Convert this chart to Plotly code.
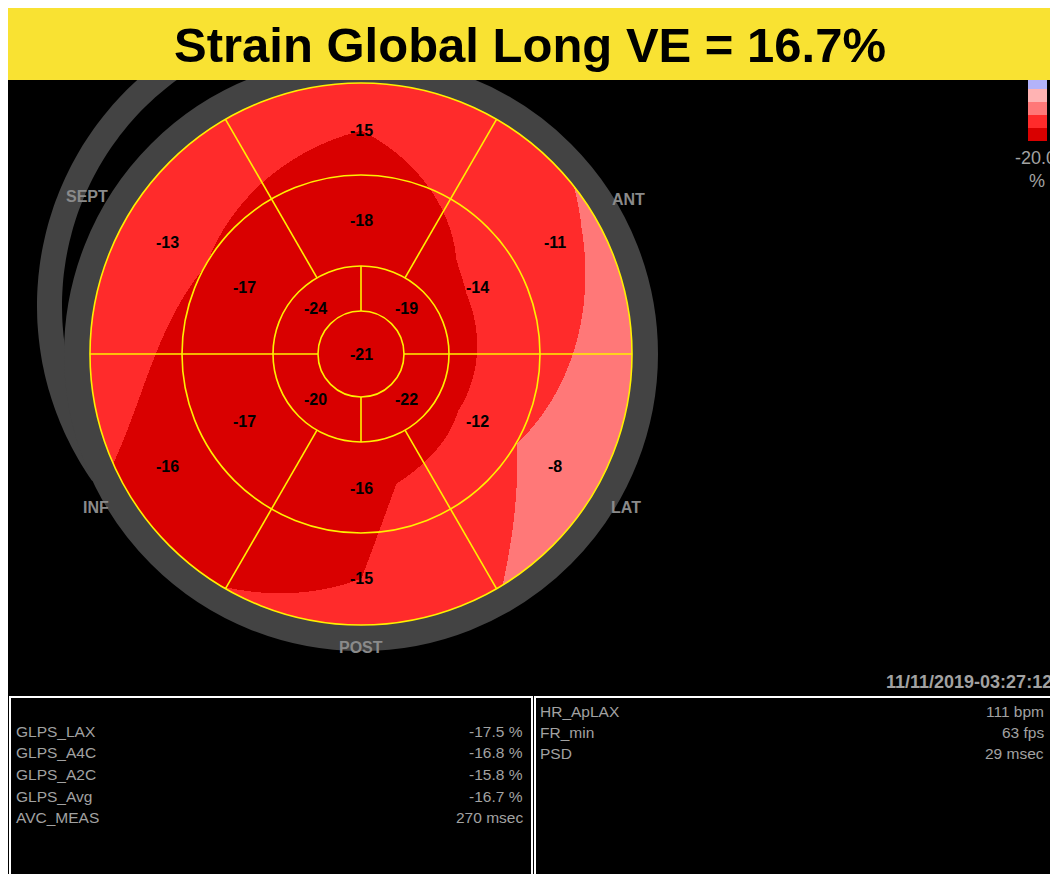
import numpy as np
import plotly.graph_objects as go

# ---------------- data ----------------
TITLE = "Strain Global Long VE = 16.7%"

APEX_VALUE = -21
APICAL_ANGLES = [45, 135, 225, 315]          # degrees, counter-clockwise from 3 o'clock
APICAL_VALUES = [-19, -24, -20, -22]
WALL_ANGLES = [30, 90, 150, 210, 270, 330]
MID_VALUES = [-14, -18, -17, -17, -16, -12]
BASAL_VALUES = [-11, -15, -13, -16, -15, -8]

WALL_LABELS = ["ANT", "SEPT", "INF", "POST", "LAT"]
WALL_LABEL_ANGLES = [30, 150, 210, 270, 330]

BIN_EDGES = [-20, -15, -10, -5, 0, 5]
BIN_COLORS = ["#d90000", "#ff2b2b", "#ff7878", "#ffb3b3", "#b3b3fa"]
SCALE_LABEL = "-20.0"
SCALE_UNIT = "%"

LEFT_LABELS = ["GLPS_LAX", "GLPS_A4C", "GLPS_A2C", "GLPS_Avg", "AVC_MEAS"]
LEFT_VALUES = ["-17.5 %", "-16.8 %", "-15.8 %", "-16.7 %", "270 msec"]
RIGHT_LABELS = ["HR_ApLAX", "FR_min", "PSD"]
RIGHT_VALUES = ["111 bpm", "63 fps", "29 msec"]
TIMESTAMP = "11/11/2019-03:27:12"

# ---------------- geometry / style ----------------
W, H = 1050, 874
CX, CY = 361.0, 354.0
R_APEX, R_APICAL, R_MID, R_OUT = 43, 88, 179, 271
R_LABEL = [0, 64, 134, 224]          # radius where each ring's value sits
WALL_LABEL_R = [309, 316, 306, 293, 306]
GRAY = "#434343"
YELLOW = "#fff000"
FONT = "Liberation Sans, Arial, sans-serif"
TXT_GRAY = "#a2a2a2"


def pol(r, ang):
    a = np.radians(ang)
    return CX + r * np.cos(a), CY - r * np.sin(a)


# ---------------- interpolated strain field ----------------
half = R_OUT + 1
xs = np.arange(CX - half, CX + half + 1, 1.0)
ys = np.arange(CY - half, CY + half + 1, 1.0)
X, Y = np.meshgrid(xs, ys)
DX, DY = X - CX, CY - Y
rr = np.hypot(DX, DY)
th = np.degrees(np.arctan2(DY, DX)) % 360
apical = np.interp(th, APICAL_ANGLES, APICAL_VALUES, period=360)
mid = np.interp(th, WALL_ANGLES, MID_VALUES, period=360)
basal = np.interp(th, WALL_ANGLES, BASAL_VALUES, period=360)
r1, r2, r3 = R_LABEL[1], R_LABEL[2], R_LABEL[3]
field = np.where(
    rr <= r1, APEX_VALUE + (apical - APEX_VALUE) * rr / r1,
    np.where(rr <= r2, apical + (mid - apical) * (rr - r1) / (r2 - r1),
             mid + (basal - mid) * (rr - r2) / (r3 - r2)))
field = field.astype("float32")
field[rr > R_OUT + 0.6] = np.nan

lo, hi = BIN_EDGES[0], BIN_EDGES[-1]
cs = []
for i, c in enumerate(BIN_COLORS):
    cs.append([(BIN_EDGES[i] - lo) / (hi - lo), c])
    cs.append([(BIN_EDGES[i + 1] - lo) / (hi - lo), c])

fig = go.Figure()
fig.add_trace(go.Heatmap(x=xs, y=ys, z=field, zmin=lo, zmax=hi, colorscale=cs,
                         showscale=False, zsmooth=False, hoverinfo="skip"))

shapes = []
# black display area (page has a white 8px frame top/left)
shapes.append(dict(type="rect", x0=8, x1=W + 20, y0=80, y1=H + 20, fillcolor="black",
                   line=dict(width=0), layer="below"))
# second (offset) gray arc on the left
C2X, C2Y, C2I, C2O = 342.0, 306.0, 280.0, 305.0
angs = np.linspace(100, 215, 120)
outer = [(C2X + C2O * np.cos(np.radians(a)), C2Y - C2O * np.sin(np.radians(a))) for a in angs]
inner = [(C2X + C2I * np.cos(np.radians(a)), C2Y - C2I * np.sin(np.radians(a))) for a in angs[::-1]]
pts = outer + inner
path = "M " + " L ".join(f"{px:.1f},{py:.1f}" for px, py in pts) + " Z"
shapes.append(dict(type="path", path=path, fillcolor=GRAY, line=dict(width=0), layer="below"))
# colour scale bins
for i, c in enumerate(BIN_COLORS):
    yb = 141 - 13 * i
    shapes.append(dict(type="rect", x0=1028, x1=1047, y0=yb - 13, y1=yb, fillcolor=c,
                       line=dict(width=0), layer="below"))

# main gray ring
shapes.append(dict(type="circle", x0=CX - 284, x1=CX + 284, y0=CY - 284, y1=CY + 284,
                   line=dict(color=GRAY, width=26), layer="above"))
# yellow ring boundaries
for r in [R_APEX, R_APICAL, R_MID, R_OUT]:
    shapes.append(dict(type="circle", x0=CX - r, x1=CX + r, y0=CY - r, y1=CY + r,
                       line=dict(color=YELLOW, width=1.6), layer="above"))
# radial dividers
for a in [0, 60, 120, 180, 240, 300]:
    x0, y0 = pol(R_APICAL, a)
    x1, y1 = pol(R_OUT, a)
    shapes.append(dict(type="line", x0=x0, y0=y0, x1=x1, y1=y1,
                       line=dict(color=YELLOW, width=1.6), layer="above"))
for a in [0, 90, 180, 270]:
    x0, y0 = pol(R_APEX, a)
    x1, y1 = pol(R_APICAL, a)
    shapes.append(dict(type="line", x0=x0, y0=y0, x1=x1, y1=y1,
                       line=dict(color=YELLOW, width=1.6), layer="above"))

# white page frame (top / left) and header band
shapes.append(dict(type="rect", x0=-10, x1=W + 20, y0=-10, y1=8, fillcolor="white",
                   line=dict(width=0), layer="above"))
shapes.append(dict(type="rect", x0=-10, x1=8, y0=-10, y1=H + 20, fillcolor="white",
                   line=dict(width=0), layer="above"))
shapes.append(dict(type="rect", x0=8, x1=W + 20, y0=8, y1=80, fillcolor="#f9e232",
                   line=dict(width=0), layer="above"))
# table boxes
shapes.append(dict(type="rect", x0=10, x1=532, y0=697, y1=H + 20,
                   line=dict(color="white", width=2), layer="above"))
shapes.append(dict(type="rect", x0=535, x1=W + 30, y0=697, y1=H + 20,
                   line=dict(color="white", width=2), layer="above"))

ann = []
ann.append(dict(x=530, y=45, text=f"<b>{TITLE}</b>", showarrow=False,
                font=dict(family=FONT, size=49, color="black"), xanchor="center", yanchor="middle"))

# segment values
seg_font = dict(family=FONT, size=16, color="black")
ann.append(dict(x=CX, y=CY, text=f"<b>{APEX_VALUE}</b>", showarrow=False, font=seg_font))
for a, v in zip(APICAL_ANGLES, APICAL_VALUES):
    px, py = pol(R_LABEL[1], a)
    ann.append(dict(x=px, y=py, text=f"<b>{v}</b>", showarrow=False, font=seg_font))
for a, v in zip(WALL_ANGLES, MID_VALUES):
    px, py = pol(R_LABEL[2], a)
    ann.append(dict(x=px, y=py, text=f"<b>{v}</b>", showarrow=False, font=seg_font))
for a, v in zip(WALL_ANGLES, BASAL_VALUES):
    px, py = pol(R_LABEL[3], a)
    ann.append(dict(x=px, y=py, text=f"<b>{v}</b>", showarrow=False, font=seg_font))

# wall names
for name, a, rl in zip(WALL_LABELS, WALL_LABEL_ANGLES, WALL_LABEL_R):
    px, py = pol(rl, a)
    ann.append(dict(x=px, y=py, text=f"<b>{name}</b>", showarrow=False,
                    font=dict(family=FONT, size=16, color="#8a8a8a")))

# colour scale labels
ann.append(dict(x=1013, y=158, text=SCALE_LABEL, showarrow=False, xanchor="left",
                font=dict(family=FONT, size=18, color=TXT_GRAY)))
ann.append(dict(x=1037, y=181, text=SCALE_UNIT, showarrow=False,
                font=dict(family=FONT, size=18, color=TXT_GRAY)))

# timestamp
ann.append(dict(x=884, y=682, text=f"<b>{TIMESTAMP}</b>", showarrow=False, xanchor="left",
                font=dict(family=FONT, size=18, color=TXT_GRAY)))

tfont = dict(family=FONT, size=15.5, color=TXT_GRAY)
for i, (lab, val) in enumerate(zip(LEFT_LABELS, LEFT_VALUES)):
    yy = 731 + 21.7 * i
    ann.append(dict(x=14, y=yy, text=lab, showarrow=False, xanchor="left", font=tfont))
    ann.append(dict(x=525, y=yy, text=val, showarrow=False, xanchor="right", font=tfont))
for i, (lab, val) in enumerate(zip(RIGHT_LABELS, RIGHT_VALUES)):
    yy = 711 + 21.3 * i
    ann.append(dict(x=538, y=yy, text=lab, showarrow=False, xanchor="left", font=tfont))
    ann.append(dict(x=1046, y=yy, text=val, showarrow=False, xanchor="right", font=tfont))

fig.update_layout(
    width=W, height=H,
    margin=dict(l=0, r=0, t=0, b=0, pad=0),
    paper_bgcolor="white", plot_bgcolor="white",
    xaxis=dict(range=[0, W], visible=False, showgrid=False, zeroline=False, fixedrange=True),
    yaxis=dict(range=[H, 0], visible=False, showgrid=False, zeroline=False, fixedrange=True),
    shapes=shapes, annotations=ann, showlegend=False,
)
fig.write_html("out.html", config={"displayModeBar": False},
               post_script="document.body.style.margin='0';"
                           "document.documentElement.style.overflow='hidden';")
